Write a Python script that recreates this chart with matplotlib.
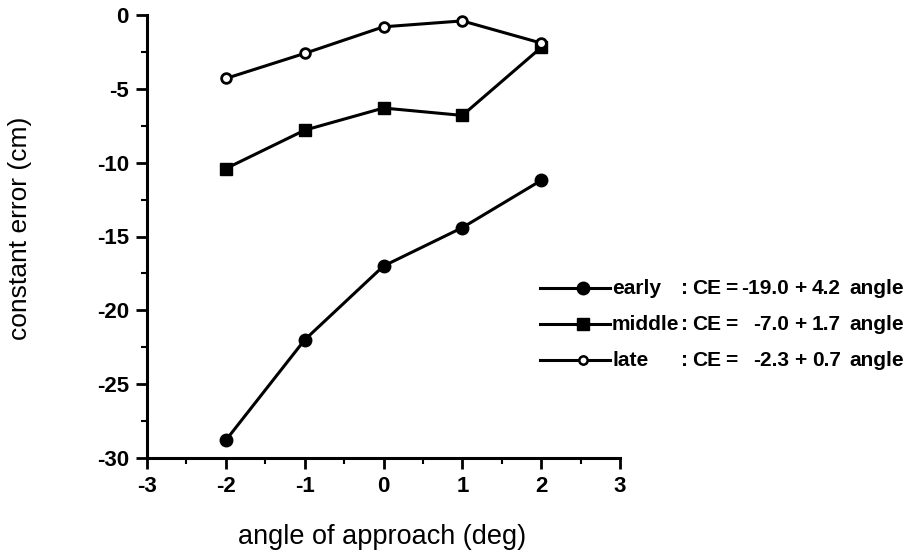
import matplotlib
matplotlib.use("Agg")
import matplotlib.pyplot as plt
from matplotlib.lines import Line2D
from matplotlib.ticker import MultipleLocator

plt.rcParams['font.family'] = ['Liberation Sans', 'DejaVu Sans']
plt.rcParams['axes.unicode_minus'] = False

angles = [-2, -1, 0, 1, 2]
early = [-28.8, -22.0, -17.0, -14.4, -11.2]
middle = [-10.4, -7.8, -6.3, -6.8, -2.2]
late = [-4.3, -2.6, -0.8, -0.4, -1.9]

series_names = ["early", "middle", "late"]
intercepts = ["-19.0", "-7.0", "-2.3"]
slopes = ["4.2", "1.7", "0.7"]

W, H = 913, 554
fig = plt.figure(figsize=(W / 100, H / 100), dpi=100)
ax = fig.add_axes([147 / W, 1 - 458 / H, (620 - 147) / W, (458 - 15) / H])

lw = 2.2
ax.plot(angles, early, color='black', lw=lw, marker='o', ms=9, mfc='black', mec='black', clip_on=False)
ax.plot(angles, middle, color='black', lw=lw, marker='s', ms=9, mfc='black', mec='black', clip_on=False)
ax.plot(angles, late, color='black', lw=lw, marker='o', ms=7, mfc='white', mec='black', mew=2, clip_on=False, zorder=3)

ax.set_xlim(-3, 3)
ax.set_ylim(-30, 0)
ax.xaxis.set_major_locator(MultipleLocator(1))
ax.xaxis.set_minor_locator(MultipleLocator(0.5))
ax.yaxis.set_major_locator(MultipleLocator(5))
ax.yaxis.set_minor_locator(MultipleLocator(2.5))
for s in ['top', 'right']:
    ax.spines[s].set_visible(False)
for s in ['left', 'bottom']:
    ax.spines[s].set_linewidth(2.2)
ax.tick_params(which='major', direction='out', length=8, width=2, labelsize=16, pad=5)
ax.tick_params(which='minor', direction='out', length=4, width=1.5)
for lab in ax.get_xticklabels() + ax.get_yticklabels():
    lab.set_fontweight('bold')

fig.text(382 / W, 1 - 537 / H, 'angle of approach (deg)', fontsize=19.5, ha='center', va='center')
fig.text(20 / W, 1 - 228 / H, 'constant error (cm)', fontsize=19, ha='center', va='center', rotation=90)

# legend drawn by hand
rows_y = [288, 324, 360]
markers = [dict(marker='o', ms=9, mfc='black', mec='black'),
           dict(marker='s', ms=9, mfc='black', mec='black'),
           dict(marker='o', ms=6, mfc='white', mec='black', mew=1.8)]
kw = dict(fontsize=15, fontweight='bold', va='center')
for i, y in enumerate(rows_y):
    fy = 1 - y / H
    fig.add_artist(Line2D([540 / W, 610 / W], [fy, fy], color='black', lw=2.2, transform=fig.transFigure))
    fig.add_artist(Line2D([583 / W], [fy], color='black', lw=0, transform=fig.transFigure, **markers[i]))
    fig.text(612 / W, fy, series_names[i], ha='left', **kw)
    fig.text(681 / W, fy, ':', ha='left', **kw)
    fig.text(692 / W, fy, 'CE', ha='left', **kw)
    fig.text(725 / W, fy, '=', ha='left', **kw)
    fig.text(789 / W, fy, intercepts[i], ha='right', **kw)
    fig.text(794 / W, fy, '+', ha='left', **kw)
    fig.text(812 / W, fy, slopes[i], ha='left', **kw)
    fig.text(849 / W, fy, 'angle', ha='left', **kw)

fig.savefig('out.png', dpi=100)
